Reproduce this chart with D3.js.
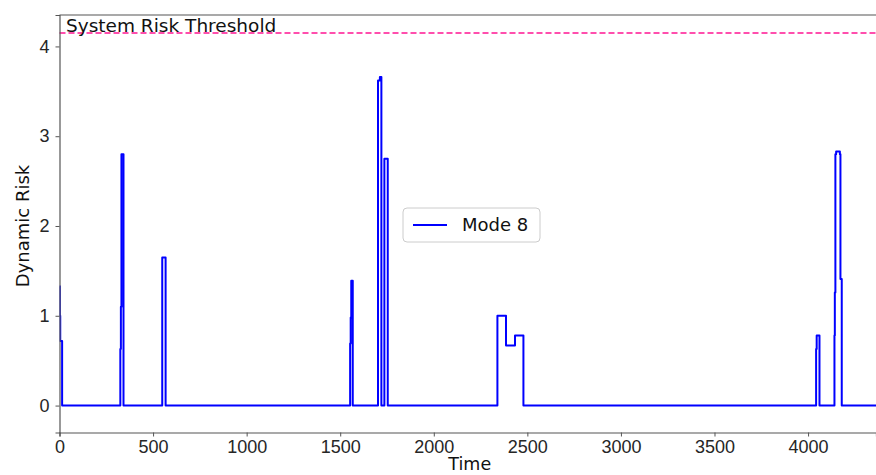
<!DOCTYPE html>
<html>
<head>
<meta charset="utf-8">
<script src="https://cdn.jsdelivr.net/npm/d3@7"></script>
<style>
  body { margin: 0; background: #fff; }
  svg { font-family: "DejaVu Sans", sans-serif; }
  .tick text { fill: #262626; }
</style>
</head>
<body>
<svg id="canvas"></svg>
<script>
// Data: step series (time, dynamic risk)
const times = [0, 2, 4, 14,
  325, 328, 331, 342,
  549, 567,
  1553, 1556, 1559, 1567,
  1702, 1712, 1720, 1736, 1754,
  2340, 2386, 2434, 2479,
  4043, 4046, 4061,
  4141, 4143, 4146, 4150, 4166, 4170, 4173, 4180];
const risk = [1.33, 1.0, 0.72, 0,
  0.63, 1.1, 2.8, 0,
  1.65, 0,
  0.69, 0.98, 1.39, 0,
  3.62, 3.66, 0, 2.75, 0,
  1.0, 0.67, 0.78, 0,
  0.63, 0.78, 0,
  0.78, 1.26, 2.8, 2.83, 2.83, 2.8, 1.41, 0];
const threshold = 4.15;
const xTicks = [0, 500, 1000, 1500, 2000, 2500, 3000, 3500, 4000];
const yTicks = [0, 1, 2, 3, 4];
const seriesName = "Mode 8";

const width = 876, height = 475;
const margin = {left: 59.5, right: 0, top: 15, bottom: 42.5};

const svg = d3.select("#canvas").attr("width", width).attr("height", height);

// add end point so the line runs to the right edge
const points = times.map((t, i) => [t, risk[i]]);
points.push([4400, 0]);

const x = d3.scaleLinear().domain([0, 4363]).range([margin.left, width - margin.right]);
const y = d3.scaleLinear().domain([-0.30, 4.35]).range([height - margin.bottom, margin.top]);

svg.append("defs").append("clipPath").attr("id", "clip")
   .append("rect")
   .attr("x", margin.left).attr("y", margin.top)
   .attr("width", width - margin.left - margin.right)
   .attr("height", height - margin.top - margin.bottom);

// threshold line
svg.append("line")
   .attr("x1", x(0)).attr("x2", width)
   .attr("y1", y(threshold)).attr("y2", y(threshold))
   .attr("stroke", "#ff1493").attr("stroke-width", 1.6)
   .attr("stroke-dasharray", "6,3");

svg.append("text")
   .attr("x", 66).attr("y", 32)
   .attr("font-size", 18.5).attr("fill", "#111")
   .text("System Risk Threshold");

// the risk line
const line = d3.line().x(d => x(d[0])).y(d => y(d[1])).curve(d3.curveStepAfter);
svg.append("path")
   .datum(points)
   .attr("clip-path", "url(#clip)")
   .attr("d", line)
   .attr("fill", "none")
   .attr("stroke", "#0000ff")
   .attr("stroke-width", 2)
   .attr("stroke-linejoin", "round");

// axes
const xAxis = d3.axisBottom(x).tickValues(xTicks).tickSize(4).tickPadding(4).tickFormat(d3.format("d"));
const gx = svg.append("g")
   .attr("transform", `translate(0, ${height - margin.bottom})`)
   .call(xAxis);
gx.selectAll("text").attr("font-size", 18);

const yAxis = d3.axisLeft(y).tickValues(yTicks).tickSize(4).tickPadding(6).tickFormat(d3.format("d"));
const gy = svg.append("g")
   .attr("transform", `translate(${margin.left}, 0)`)
   .call(yAxis);
gy.selectAll("text").attr("font-size", 18);

[gx, gy].forEach(g => {
   g.select(".domain").attr("stroke", "#555").attr("stroke-width", 1.2);
   g.selectAll(".tick line").attr("stroke", "#555");
});

// top spine
svg.append("line")
   .attr("x1", margin.left).attr("x2", width)
   .attr("y1", margin.top).attr("y2", margin.top)
   .attr("stroke", "#555").attr("stroke-width", 1.2);

// axis labels
svg.append("text")
   .attr("x", (margin.left + width) / 2 + 2).attr("y", 470)
   .attr("text-anchor", "middle").attr("font-size", 17.5).attr("fill", "#111")
   .text("Time");
svg.append("text")
   .attr("transform", `translate(29, ${y(2)}) rotate(-90)`)
   .attr("text-anchor", "middle").attr("font-size", 18).attr("fill", "#111")
   .text("Dynamic Risk");

// legend
const legend = svg.append("g").attr("transform", "translate(403, 208)");
legend.append("rect")
   .attr("width", 137).attr("height", 34).attr("rx", 4)
   .attr("fill", "#fff").attr("fill-opacity", 0.8)
   .attr("stroke", "#ccc");
legend.append("line")
   .attr("x1", 10).attr("x2", 44).attr("y1", 17).attr("y2", 17)
   .attr("stroke", "#0000ff").attr("stroke-width", 2);
legend.append("text")
   .attr("x", 59).attr("y", 23)
   .attr("font-size", 18).attr("fill", "#111")
   .text(seriesName);
</script>
</body>
</html>
